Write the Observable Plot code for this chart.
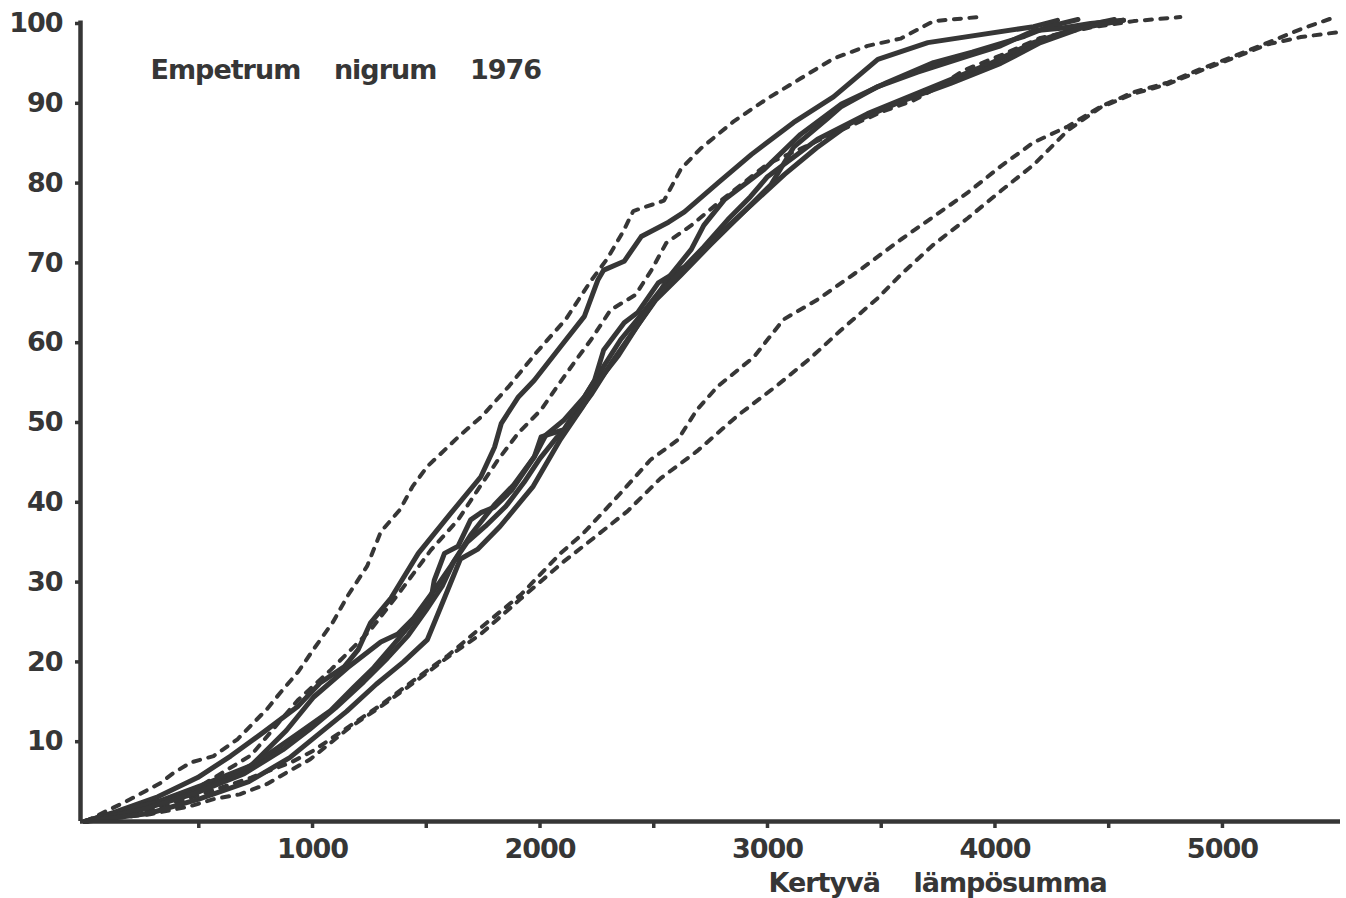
<!DOCTYPE html>
<html>
<head>
<meta charset="utf-8">
<script src="https://cdn.jsdelivr.net/npm/d3@7"></script>
<script src="https://cdn.jsdelivr.net/npm/@observablehq/plot@0.6"></script>
<style>
  html, body { margin: 0; padding: 0; background: #fff; }
</style>
</head>
<body>
<div id="chart"></div>
<script>
// ---- Text ----
const TITLE = "Empetrum nigrum 1976";
const X_LABEL = "Kertyvä lämpösumma";

// ---- Axis ticks ----
const X_DOMAIN = [-20, 5519];
const Y_DOMAIN = [0, 100];
const X_TICKS = [500, 1000, 1500, 2000, 2500, 3000, 3500, 4000, 4500, 5000];
const X_TICK_LABELS = [1000, 2000, 3000, 4000, 5000];
const Y_TICKS = [10, 20, 30, 40, 50, 60, 70, 80, 90, 100];

// ---- Solid curves [lämpösumma, %] ----
const S1 = [[0,0],[125,1.1],[320,3.1],[495,5.5],[640,8.2],[785,11.2],[935,14.4],[1035,17.4],[1140,19.4],[1200,21.5],[1255,24.9],[1345,28],[1465,33.6],[1610,38.7],[1740,43.2],[1800,46.9],[1830,49.9],[1905,53.2],[1975,55.3],[2090,59.5],[2195,63.3],[2255,67.9],[2280,69.1],[2370,70.2],[2445,73.3],[2565,75.1],[2635,76.4],[2785,80.1],[2930,83.6],[3115,87.6],[3290,90.8],[3485,95.5],[3705,97.6],[4170,99.6],[4275,100.4]];
const S2 = [[0,0],[155,1.3],[330,2.6],[510,4.5],[730,7],[885,11.4],[1005,15.6],[1155,19.3],[1300,22.5],[1375,23.5],[1445,25.5],[1535,29],[1610,32.1],[1695,35.9],[1800,39.7],[1885,42.2],[1975,45.7],[2025,48.4],[2105,50.3],[2195,53.2],[2270,56.6],[2355,60.4],[2445,63.5],[2530,66.6],[2575,68.5],[2665,71.7],[2720,74.7],[2810,77.9],[2985,81.7],[3145,86.1],[3325,89.9],[3525,92.6],[3730,95.1],[3900,96.4],[4130,98.4],[4235,99.6],[4365,100.5]];
const S3 = [[0,0],[200,1.6],[420,3.1],[640,5.5],[785,8],[935,11],[1080,13.9],[1180,16.8],[1270,19.3],[1360,22.3],[1445,25.2],[1520,27.7],[1535,30.2],[1580,33.6],[1640,34.5],[1695,37.8],[1740,38.7],[1800,39.4],[1875,41.5],[1975,45.7],[2005,48.2],[2105,49.1],[2195,53.2],[2240,55.3],[2280,59.1],[2370,62.5],[2430,63.8],[2520,67.5],[2635,69.5],[2720,72],[2825,75.4],[2925,78.3],[3000,80.8],[3220,85.5],[3440,88.7],[3730,92.1],[3980,95],[4160,97.5],[4390,99.7],[4525,100.5]];
const S4 = [[0,0],[250,1.5],[480,3.5],[700,6],[870,9],[985,11.5],[1100,14.2],[1225,17.5],[1330,20.5],[1420,23.3],[1500,26.5],[1570,29.5],[1620,32.5],[1680,35],[1760,37],[1850,39.5],[1930,42.5],[2000,45.5],[2070,48],[2135,50],[2225,53.5],[2310,57.3],[2400,61],[2510,65.4],[2620,68.5],[2750,72.3],[2885,76.1],[3015,79.8],[3115,84.5],[3265,88.1],[3325,89.6],[3485,92.1],[3660,93.9],[3880,95.9],[4025,97.2],[4170,99.1],[4290,99.4],[4420,100],[4565,100.4]];
const S5 = [[0,0],[280,1],[500,2.8],[720,5],[900,8],[1020,10.8],[1150,13.8],[1280,17.2],[1400,20],[1505,22.8],[1580,28],[1650,32.9],[1725,34.1],[1825,37],[1970,42],[2090,47.9],[2190,52.1],[2265,55.5],[2345,58.4],[2430,62.2],[2520,66],[2635,69.4],[2785,73.5],[2930,77.3],[3075,81.1],[3215,84.4],[3365,87.5],[3585,90.2],[3805,92.5],[4025,95],[4200,97.6],[4375,99.4],[4565,100.4]];

// ---- Dashed curves [lämpösumma, %] ----
const DA = [[0,0],[180,2.5],[330,4.8],[390,6.1],[465,7.4],[565,8.2],[670,10.3],[800,14.1],[860,16.2],[935,18.7],[1005,21.6],[1090,25],[1155,28.3],[1240,32],[1300,36.3],[1385,39.1],[1440,42],[1505,44.5],[1645,48.3],[1745,50.8],[1865,54.6],[1985,58.8],[2115,63],[2220,67.6],[2295,70.5],[2365,73.9],[2410,76.5],[2545,77.8],[2620,81.8],[2705,84.3],[2850,87.7],[3000,90.6],[3145,93.1],[3290,95.6],[3440,97.2],[3585,98.1],[3730,100.3],[3925,100.8]];
const DB = [[0,0],[290,2.1],[510,4.5],[730,8.3],[935,15.2],[1080,19],[1255,24],[1390,29],[1520,34],[1640,37.8],[1725,41.5],[1815,45.3],[1905,48.7],[2005,51.6],[2080,54.7],[2160,57.9],[2225,60.4],[2310,64.1],[2420,66],[2490,69.1],[2555,72.5],[2665,74.7],[2795,77.8],[3000,82.4],[3145,84.3],[3335,86.8],[3500,88.9],[3645,90.4],[3760,92.2],[3860,94.1],[4025,96],[4200,98.2],[4420,99.5],[4610,100.3],[4815,100.8]];
const DC = [[0,0],[290,1.5],[510,3.4],[730,5.5],[905,7.4],[1005,8.9],[1155,11.8],[1300,14.6],[1445,17.7],[1595,20.8],[1740,24.3],[1915,28.4],[2090,33.6],[2190,36.1],[2340,40.7],[2485,45.3],[2605,47.8],[2690,51.6],[2780,54.5],[2940,58.2],[3070,62.9],[3220,65.4],[3410,69.2],[3585,72.9],[3730,75.8],[3880,78.8],[4025,82.1],[4170,85.1],[4320,87.1],[4465,89.6],[4610,91.4],[4760,92.6],[4905,94.3],[5050,95.9],[5200,97.6],[5345,99.3],[5505,100.9]];
const DD = [[0,0],[285,0.9],[460,1.9],[565,2.8],[680,3.4],[800,4.7],[890,6.2],[990,7.8],[1155,11.6],[1300,14.4],[1445,17.4],[1595,20.6],[1740,23.5],[1915,27.9],[2105,32.6],[2235,35.5],[2385,38.9],[2530,43],[2690,46.4],[2870,50.9],[3045,54.7],[3190,58.1],[3320,61.5],[3485,65.6],[3585,68.5],[3730,72.3],[3880,75.6],[4025,79],[4170,82.3],[4320,86.6],[4465,89.5],[4610,91.2],[4760,92.4],[4905,94.1],[5050,95.7],[5200,97.4],[5345,98.3],[5505,98.9]];

const SOLID = [["S1", S1], ["S2", S2], ["S3", S3], ["S4", S4], ["S5", S5]];
const DASHED = [["DA", DA], ["DB", DB], ["DC", DC], ["DD", DD]];

const toRows = (list) => list.flatMap(([id, pts]) => pts.map(([x, y]) => ({id, x, y})));
const solidRows = toRows(SOLID);
const dashedRows = toRows(DASHED);

const INK = "#363636";
const spaced = (s) => s.split(" ").join("\u00a0\u00a0\u00a0\u00a0");

const chart = Plot.plot({
  width: 1346,
  height: 898,
  marginLeft: 80,
  marginRight: 6,
  marginTop: 23,
  marginBottom: 77,
  style: {
    fontFamily: "'DejaVu Sans', sans-serif",
    fontWeight: "bold",
    fontSize: "27px",
    letterSpacing: "-1px",
    color: INK,
    background: "#fff"
  },
  x: {domain: X_DOMAIN, axis: null},
  y: {domain: Y_DOMAIN, axis: null},
  marks: [
    Plot.line(dashedRows, {x: "x", y: "y", z: "id", stroke: INK, strokeWidth: 4,
      strokeDasharray: "7,8.5", strokeLinecap: "round", strokeLinejoin: "round"}),
    Plot.line(solidRows, {x: "x", y: "y", z: "id", stroke: INK, strokeWidth: 5,
      strokeLinecap: "round", strokeLinejoin: "round"}),
    Plot.ruleY([Y_DOMAIN[0]], {stroke: INK, strokeWidth: 4.5}),
    Plot.ruleX([X_DOMAIN[0]], {y1: Y_DOMAIN[0], y2: Y_DOMAIN[1] + 0.3, stroke: INK, strokeWidth: 4.5}),
    Plot.axisX({ticks: X_TICKS, tickSize: 7, tickPadding: 10, strokeWidth: 3.5, label: null,
      tickFormat: (d) => X_TICK_LABELS.includes(d) ? String(d) : ""}),
    Plot.axisY({ticks: Y_TICKS, tickSize: 5, tickPadding: 13, strokeWidth: 3.5, label: null,
      tickFormat: (d) => String(d)}),
    Plot.text([spaced(TITLE)], {frameAnchor: "top-left", dx: 70, dy: 55, textAnchor: "start",
      lineAnchor: "bottom", fill: INK}),
    Plot.text([spaced(X_LABEL)], {frameAnchor: "bottom-left", dx: 688, dy: 70, textAnchor: "start",
      lineAnchor: "bottom", fill: INK})
  ]
});
document.getElementById("chart").appendChild(chart);
</script>
</body>
</html>
